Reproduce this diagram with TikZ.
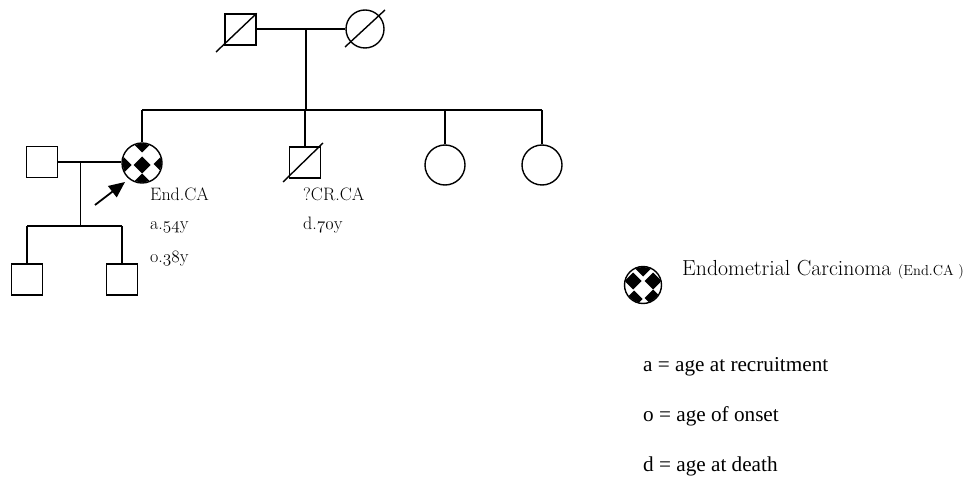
\documentclass[tikz,border=0pt]{standalone}
\usepackage{fontspec}
\usetikzlibrary{arrows.meta}
\newfontfamily\legfont{Liberation Serif}
\newcommand\osf[1]{{\fontencoding{OML}\fontfamily{cmm}\fontseries{m}\fontshape{it}\selectfont #1}}
\tikzset{
  male/.style={draw, rectangle, minimum size=31pt, inner sep=0pt, line width=1.4pt},
  female/.style={draw, circle, minimum size=40pt, inner sep=0pt, line width=1.4pt},
  rel/.style={line width=1.6pt},
  dead/.style={line width=1.4pt},
  lbl/.style={anchor=base west, inner sep=0pt, font=\fontsize{18}{21}\selectfont},
  legtxt/.style={anchor=base west, inner sep=0pt, font=\legfont\fontsize{21.2}{25}\selectfont},
}
\newcommand\patA[1]{% proband pattern: black at centre and edges
  \begin{scope}
    \clip (#1) circle (19.3pt);
    \foreach \dx/\dy in {0/-2, -19/-2, 20/-1, 0/-19, 0/19}{
      \fill[black] ([shift={(\dx pt,\dy pt)}]#1) +(-8.5pt,0) -- +(0,-8.5pt) -- +(8.5pt,0) -- +(0,8.5pt) -- cycle;
    }
  \end{scope}}
\newcommand\patB[1]{% legend pattern
  \begin{scope}
    \clip (#1) circle (18pt);
    \foreach \dx/\dy in {-9/-14, 10/-13, -10/4, 10/4, 0/17}{
      \fill[black] ([shift={(\dx pt,\dy pt)}]#1) +(-8.5pt,0) -- +(0,-8.5pt) -- +(8.5pt,0) -- +(0,8.5pt) -- cycle;
    }
  \end{scope}}
\begin{document}
\begin{tikzpicture}[x=1pt,y=-1pt]
\useasboundingbox (0,0) rectangle (971,478);
% generation I
\node[male] (gf) at (240.5,29.5) {};
\node[female, minimum size=38pt] (gm) at (365,29) {};
\draw[dead] (216,52) -- (gf.north east);
\draw[dead] (345,47) -- (385,10);
\coordinate (m1) at (306,29);
\draw[rel] (gf.east |- m1) -- (gm.west |- m1);
\coordinate (s1) at (306,110);
\draw[rel] (m1) -- (s1);
% generation II
\coordinate (sl) at (142,110);
\coordinate (sr) at (542,110);
\draw[rel] (sl) -- (sr);
\node[female] (pro) at (142,163) {};
\patA{pro.center}
\node[male] (bro) at (305,162.5) {};
\draw[dead] (283,182) -- (323,143);
\node[female] (sis1) at (445,165) {};
\node[female] (sis2) at (542,165) {};
\draw[rel] (sl) -- (pro.north);
\draw[rel] (bro.north |- s1) -- (bro.north);
\draw[rel] (sis1.north |- s1) -- (sis1.north);
\draw[rel] (sr) -- (sis2.north);
\node[male] (hus) at (42,162) {};
\coordinate (m2) at (80.5,162);
\draw[rel] (hus.east) -- (hus.east -| pro.west);
\coordinate (s2) at (80.5,226);
\draw[rel] (m2) -- (s2);
% generation III
\node[male] (c1) at (27,279.5) {};
\node[male] (c2) at (122,279.5) {};
\coordinate (cl) at (27,226);
\coordinate (cr) at (122,226);
\draw[rel] (cl) -- (cr);
\draw[rel] (cl) -- (c1.north);
\draw[rel] (cr) -- (c2.north);
% proband arrow
\coordinate (arr) at (95,205);
\draw[line width=1.8pt, -{Triangle[length=16pt,width=14pt]}] (arr) -- (125,182);
% labels
\node[lbl] (l1) at (150,201) {End.CA};
\node[lbl] (l2) at (150,230) {a.\osf{54}y};
\node[lbl] (l3) at (150,262) {o.\osf{38}y};
\node[lbl] (l4) at (303,201) {?CR.CA};
\node[lbl] (l5) at (303,230) {d.\osf{70}y};
% legend
\node[female, minimum size=37pt] (leg) at (643,285) {};
\patB{leg.center}
\node[anchor=base west, inner sep=0pt, font=\fontsize{21.8}{25}\selectfont] (lt) at (682,275) {Endometrial Carcinoma \fontsize{14.5}{17}\selectfont(End.CA )};
\node[legtxt] (la) at (643,371) {a = age at recruitment};
\node[legtxt] (lo) at (643,421) {o = age of onset};
\node[legtxt] (ld) at (643,471) {d = age at death};
\end{tikzpicture}
\end{document}
